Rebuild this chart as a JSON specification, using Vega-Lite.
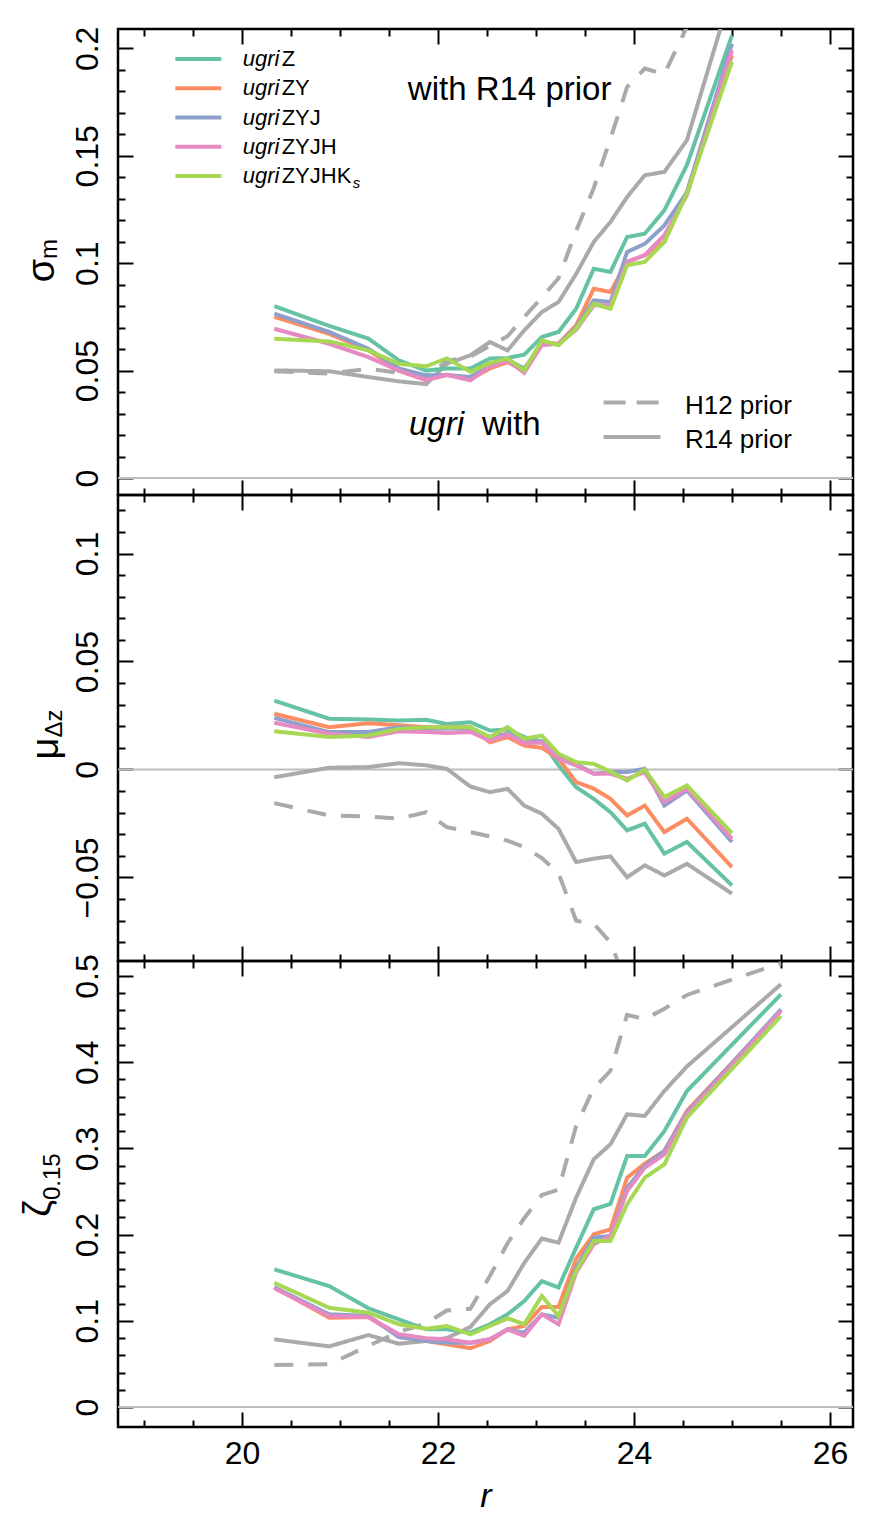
{
  "$schema": "https://vega.github.io/schema/vega-lite/v6.json",
  "background": "white",
  "padding": {"left": 18, "top": 24, "right": 5, "bottom": 5},
  "bounds": "flush",
  "spacing": 0,
  "config": {
    "view": {"stroke": "black", "strokeWidth": 2.5},
    "axis": {"labelFont": "Liberation Sans", "labelFontSize": 32, "labelColor": "black", "tickColor": "black", "tickWidth": 2, "domain": false, "grid": false, "labelFlush": false, "labelOverlap": false, "titleFont": "Liberation Sans", "titleColor": "black"},
    "text": {"font": "Liberation Sans", "color": "black"}
  },
  "datasets": {
    "sig": [
      {"r": 20.33, "ugriZ": 0.080, "ugriZY": 0.075, "ugriZYJ": 0.0765, "ugriZYJH": 0.0695, "ugriZYJHKs": 0.0648, "H12": 0.0497, "R14": 0.0501},
      {"r": 20.89, "ugriZ": 0.0708, "ugriZY": 0.0671, "ugriZYJ": 0.068, "ugriZYJH": 0.0625, "ugriZYJHKs": 0.0636, "H12": 0.0486, "R14": 0.0497},
      {"r": 21.29, "ugriZ": 0.0649, "ugriZY": 0.0595, "ugriZYJ": 0.0602, "ugriZYJH": 0.0563, "ugriZYJHKs": 0.0594, "H12": 0.0508, "R14": 0.047},
      {"r": 21.6, "ugriZ": 0.0548, "ugriZY": 0.050, "ugriZYJ": 0.051, "ugriZYJH": 0.050, "ugriZYJHKs": 0.0532, "H12": 0.049, "R14": 0.045},
      {"r": 21.88, "ugriZ": 0.050, "ugriZY": 0.0455, "ugriZYJ": 0.0478, "ugriZYJH": 0.0457, "ugriZYJHKs": 0.052, "H12": 0.047, "R14": 0.0437},
      {"r": 22.09, "ugriZ": 0.051, "ugriZY": 0.048, "ugriZYJ": 0.048, "ugriZYJH": 0.048, "ugriZYJHKs": 0.0557, "H12": 0.0545, "R14": 0.0532},
      {"r": 22.33, "ugriZ": 0.051, "ugriZY": 0.046, "ugriZYJ": 0.047, "ugriZYJH": 0.0455, "ugriZYJHKs": 0.0495, "H12": 0.0565, "R14": 0.0571},
      {"r": 22.53, "ugriZ": 0.0556, "ugriZY": 0.051, "ugriZYJ": 0.0523, "ugriZYJH": 0.0519, "ugriZYJHKs": 0.0535, "H12": 0.0615, "R14": 0.0633},
      {"r": 22.71, "ugriZ": 0.0559, "ugriZY": 0.054, "ugriZYJ": 0.055, "ugriZYJH": 0.0547, "ugriZYJHKs": 0.0557, "H12": 0.066, "R14": 0.0594},
      {"r": 22.88, "ugriZ": 0.0574, "ugriZY": 0.050, "ugriZYJ": 0.051, "ugriZYJH": 0.049, "ugriZYJHKs": 0.050, "H12": 0.075, "R14": 0.0687},
      {"r": 23.06, "ugriZ": 0.0656, "ugriZY": 0.0633, "ugriZYJ": 0.062, "ugriZYJH": 0.062, "ugriZYJHKs": 0.0641, "H12": 0.084, "R14": 0.0773},
      {"r": 23.23, "ugriZ": 0.068, "ugriZY": 0.0625, "ugriZYJ": 0.0625, "ugriZYJH": 0.0625, "ugriZYJHKs": 0.0618, "H12": 0.093, "R14": 0.0819},
      {"r": 23.41, "ugriZ": 0.0788, "ugriZY": 0.071, "ugriZYJ": 0.070, "ugriZYJH": 0.069, "ugriZYJHKs": 0.0695, "H12": 0.115, "R14": 0.095},
      {"r": 23.59, "ugriZ": 0.0974, "ugriZY": 0.0881, "ugriZYJ": 0.0827, "ugriZYJH": 0.0804, "ugriZYJHKs": 0.0811, "H12": 0.135, "R14": 0.1099},
      {"r": 23.76, "ugriZ": 0.0959, "ugriZY": 0.0866, "ugriZYJ": 0.0819, "ugriZYJH": 0.0804, "ugriZYJHKs": 0.0788, "H12": 0.158, "R14": 0.1192},
      {"r": 23.93, "ugriZ": 0.1122, "ugriZY": 0.1006, "ugriZYJ": 0.1052, "ugriZYJH": 0.1006, "ugriZYJHKs": 0.099, "H12": 0.182, "R14": 0.1308},
      {"r": 24.11, "ugriZ": 0.1137, "ugriZY": 0.1037, "ugriZYJ": 0.109, "ugriZYJH": 0.1037, "ugriZYJHKs": 0.1006, "H12": 0.1906, "R14": 0.1409},
      {"r": 24.31, "ugriZ": 0.1246, "ugriZY": 0.1099, "ugriZYJ": 0.1176, "ugriZYJH": 0.113, "ugriZYJHKs": 0.1099, "H12": 0.188, "R14": 0.1425},
      {"r": 24.54, "ugriZ": 0.1456, "ugriZY": 0.1331, "ugriZYJ": 0.133, "ugriZYJH": 0.1316, "ugriZYJHKs": 0.1324, "H12": 0.21, "R14": 0.1572},
      {"r": 25.0, "ugriZ": 0.206, "ugriZY": 0.1968, "ugriZYJ": 0.2022, "ugriZYJH": 0.1991, "ugriZYJHKs": 0.1937, "H12": 0.30, "R14": 0.227}
    ],
    "mu": [
      {"r": 20.33, "ugriZ": 0.0319, "ugriZY": 0.0258, "ugriZYJ": 0.0239, "ugriZYJH": 0.0216, "ugriZYJHKs": 0.0177, "H12": -0.0156, "R14": -0.0036},
      {"r": 20.89, "ugriZ": 0.0235, "ugriZY": 0.0196, "ugriZYJ": 0.0173, "ugriZYJH": 0.0165, "ugriZYJHKs": 0.015, "H12": -0.0213, "R14": 0.0008},
      {"r": 21.29, "ugriZ": 0.0231, "ugriZY": 0.0214, "ugriZYJ": 0.0174, "ugriZYJH": 0.015, "ugriZYJHKs": 0.0157, "H12": -0.0218, "R14": 0.0011},
      {"r": 21.6, "ugriZ": 0.0227, "ugriZY": 0.0205, "ugriZYJ": 0.0196, "ugriZYJH": 0.0177, "ugriZYJHKs": 0.0188, "H12": -0.0228, "R14": 0.0029},
      {"r": 21.88, "ugriZ": 0.023, "ugriZY": 0.0196, "ugriZYJ": 0.0188, "ugriZYJH": 0.0174, "ugriZYJHKs": 0.0196, "H12": -0.0198, "R14": 0.0019},
      {"r": 22.09, "ugriZ": 0.0211, "ugriZY": 0.0196, "ugriZYJ": 0.019, "ugriZYJH": 0.0169, "ugriZYJHKs": 0.0196, "H12": -0.0267, "R14": 0.0003},
      {"r": 22.33, "ugriZ": 0.0219, "ugriZY": 0.0196, "ugriZYJ": 0.019, "ugriZYJH": 0.0174, "ugriZYJHKs": 0.0196, "H12": -0.029, "R14": -0.0079},
      {"r": 22.53, "ugriZ": 0.018, "ugriZY": 0.0126, "ugriZYJ": 0.015, "ugriZYJH": 0.0134, "ugriZYJHKs": 0.015, "H12": -0.031, "R14": -0.0105},
      {"r": 22.71, "ugriZ": 0.0185, "ugriZY": 0.015, "ugriZYJ": 0.0165, "ugriZYJH": 0.0162, "ugriZYJHKs": 0.0196, "H12": -0.033, "R14": -0.009},
      {"r": 22.88, "ugriZ": 0.015, "ugriZY": 0.0111, "ugriZYJ": 0.013, "ugriZYJH": 0.0122, "ugriZYJHKs": 0.0142, "H12": -0.036, "R14": -0.0167},
      {"r": 23.06, "ugriZ": 0.013, "ugriZY": 0.010, "ugriZYJ": 0.013, "ugriZYJH": 0.0125, "ugriZYJHKs": 0.0157, "H12": -0.041, "R14": -0.0205},
      {"r": 23.23, "ugriZ": 0.0019, "ugriZY": 0.005, "ugriZYJ": 0.0057, "ugriZYJH": 0.005, "ugriZYJHKs": 0.0073, "H12": -0.048, "R14": -0.0275},
      {"r": 23.41, "ugriZ": -0.0082, "ugriZY": -0.0059, "ugriZYJ": 0.0026, "ugriZYJH": 0.0019, "ugriZYJHKs": 0.0034, "H12": -0.070, "R14": -0.0429},
      {"r": 23.59, "ugriZ": -0.0136, "ugriZY": -0.0089, "ugriZYJ": -0.002, "ugriZYJH": -0.002, "ugriZYJHKs": 0.0026, "H12": -0.0715, "R14": -0.0413},
      {"r": 23.76, "ugriZ": -0.0198, "ugriZY": -0.0136, "ugriZYJ": -0.0012, "ugriZYJH": -0.002, "ugriZYJHKs": -0.001, "H12": -0.080, "R14": -0.0403},
      {"r": 23.93, "ugriZ": -0.0282, "ugriZY": -0.0213, "ugriZYJ": -0.0012, "ugriZYJH": -0.0043, "ugriZYJHKs": -0.0051, "H12": -0.100, "R14": -0.0499},
      {"r": 24.11, "ugriZ": -0.0251, "ugriZY": -0.0167, "ugriZYJ": 0.0003, "ugriZYJH": -0.0012, "ugriZYJHKs": 0.0, "H12": -0.11, "R14": -0.0444},
      {"r": 24.31, "ugriZ": -0.039, "ugriZY": -0.029, "ugriZYJ": -0.0167, "ugriZYJH": -0.0151, "ugriZYJHKs": -0.0128, "H12": -0.12, "R14": -0.0491},
      {"r": 24.54, "ugriZ": -0.0336, "ugriZY": -0.0228, "ugriZYJ": -0.0097, "ugriZYJH": -0.0089, "ugriZYJHKs": -0.0074, "H12": -0.13, "R14": -0.0437},
      {"r": 25.0, "ugriZ": -0.0537, "ugriZY": -0.0452, "ugriZYJ": -0.0336, "ugriZYJH": -0.0321, "ugriZYJHKs": -0.0295, "H12": -0.15, "R14": -0.0575}
    ],
    "zeta": [
      {"r": 20.33, "ugriZ": 0.1597, "ugriZY": 0.139, "ugriZYJ": 0.139, "ugriZYJH": 0.1377, "ugriZYJHKs": 0.1442, "H12": 0.0487, "R14": 0.0785},
      {"r": 20.89, "ugriZ": 0.1404, "ugriZY": 0.1036, "ugriZYJ": 0.1075, "ugriZYJH": 0.1056, "ugriZYJHKs": 0.1152, "H12": 0.0495, "R14": 0.0703},
      {"r": 21.29, "ugriZ": 0.1145, "ugriZY": 0.1044, "ugriZYJ": 0.1056, "ugriZYJH": 0.1044, "ugriZYJHKs": 0.1094, "H12": 0.071, "R14": 0.0835},
      {"r": 21.6, "ugriZ": 0.1017, "ugriZY": 0.0824, "ugriZYJ": 0.0812, "ugriZYJH": 0.0843, "ugriZYJHKs": 0.096, "H12": 0.087, "R14": 0.0734},
      {"r": 21.88, "ugriZ": 0.0901, "ugriZY": 0.0766, "ugriZYJ": 0.0766, "ugriZYJH": 0.0797, "ugriZYJHKs": 0.0908, "H12": 0.097, "R14": 0.0766},
      {"r": 22.09, "ugriZ": 0.0901, "ugriZY": 0.0727, "ugriZYJ": 0.0746, "ugriZYJH": 0.0785, "ugriZYJHKs": 0.094, "H12": 0.112, "R14": 0.080},
      {"r": 22.33, "ugriZ": 0.0862, "ugriZY": 0.0681, "ugriZYJ": 0.0746, "ugriZYJH": 0.0746, "ugriZYJHKs": 0.0843, "H12": 0.114, "R14": 0.0928},
      {"r": 22.53, "ugriZ": 0.096, "ugriZY": 0.0766, "ugriZYJ": 0.0785, "ugriZYJH": 0.0785, "ugriZYJHKs": 0.094, "H12": 0.152, "R14": 0.1191},
      {"r": 22.71, "ugriZ": 0.1075, "ugriZY": 0.0901, "ugriZYJ": 0.0901, "ugriZYJH": 0.0901, "ugriZYJHKs": 0.1029, "H12": 0.19, "R14": 0.1346},
      {"r": 22.88, "ugriZ": 0.123, "ugriZY": 0.094, "ugriZYJ": 0.0862, "ugriZYJH": 0.0824, "ugriZYJHKs": 0.096, "H12": 0.219, "R14": 0.167},
      {"r": 23.06, "ugriZ": 0.146, "ugriZY": 0.116, "ugriZYJ": 0.1075, "ugriZYJH": 0.1075, "ugriZYJHKs": 0.1288, "H12": 0.246, "R14": 0.1955},
      {"r": 23.23, "ugriZ": 0.1388, "ugriZY": 0.116, "ugriZYJ": 0.1036, "ugriZYJH": 0.096, "ugriZYJHKs": 0.1056, "H12": 0.252, "R14": 0.1906},
      {"r": 23.41, "ugriZ": 0.1849, "ugriZY": 0.1721, "ugriZYJ": 0.1616, "ugriZYJH": 0.1558, "ugriZYJHKs": 0.1578, "H12": 0.326, "R14": 0.243},
      {"r": 23.59, "ugriZ": 0.2294, "ugriZY": 0.2003, "ugriZYJ": 0.1964, "ugriZYJH": 0.1888, "ugriZYJHKs": 0.1926, "H12": 0.37, "R14": 0.2874},
      {"r": 23.76, "ugriZ": 0.2355, "ugriZY": 0.2061, "ugriZYJ": 0.1983, "ugriZYJH": 0.1983, "ugriZYJHKs": 0.1926, "H12": 0.39, "R14": 0.3048},
      {"r": 23.93, "ugriZ": 0.2912, "ugriZY": 0.266, "ugriZYJ": 0.2544, "ugriZYJH": 0.2506, "ugriZYJHKs": 0.2352, "H12": 0.455, "R14": 0.3396},
      {"r": 24.11, "ugriZ": 0.2912, "ugriZY": 0.2823, "ugriZYJ": 0.2796, "ugriZYJH": 0.2777, "ugriZYJHKs": 0.266, "H12": 0.45, "R14": 0.3376},
      {"r": 24.31, "ugriZ": 0.32, "ugriZY": 0.297, "ugriZYJ": 0.297, "ugriZYJH": 0.2931, "ugriZYJHKs": 0.2815, "H12": 0.462, "R14": 0.3666},
      {"r": 24.54, "ugriZ": 0.3666, "ugriZY": 0.3434, "ugriZYJ": 0.3415, "ugriZYJH": 0.3395, "ugriZYJHKs": 0.3357, "H12": 0.478, "R14": 0.395},
      {"r": 25.5, "ugriZ": 0.4787, "ugriZY": 0.4594, "ugriZYJ": 0.4613, "ugriZYJH": 0.4594, "ugriZYJHKs": 0.4536, "H12": 0.515, "R14": 0.4904}
    ],
    "legend": [
      {"name": "ugriZ", "rest": "Z"},
      {"name": "ugriZY", "rest": "ZY"},
      {"name": "ugriZYJ", "rest": "ZYJ"},
      {"name": "ugriZYJH", "rest": "ZYJH"},
      {"name": "ugriZYJHKs", "rest": "ZYJHK"}
    ]
  },
  "vconcat": [
    {
      "width": 735,
      "height": 466,
      "data": {"name": "sig"},
      "layer": [
        {
          "data": {"values": [{}]},
          "mark": {"type": "rule", "color": "#bebebe", "strokeWidth": 2},
          "encoding": {"y": {"datum": 0, "type": "quantitative", "scale": {"domain": [-0.0079, 0.209], "nice": false, "zero": false}, "axis": null}}
        },
        {
          "transform": [{"fold": ["H12", "R14"], "as": ["series", "v"]}],
          "mark": {"type": "line", "strokeWidth": 4, "color": "#aaaaaa", "clip": true},
          "encoding": {
            "x": {"field": "r", "type": "quantitative", "scale": {"domain": [18.735, 26.235], "nice": false, "zero": false}, "axis": null},
            "y": {"field": "v", "type": "quantitative", "scale": {"domain": [-0.0079, 0.209], "nice": false, "zero": false}, "axis": null},
            "strokeDash": {"field": "series", "type": "nominal", "scale": {"domain": ["H12", "R14"], "range": [[19, 15], [1, 0]]}, "legend": null}
          }
        },
        {
          "transform": [{"fold": ["ugriZ", "ugriZY", "ugriZYJ", "ugriZYJH", "ugriZYJHKs"], "as": ["series", "v"]}],
          "mark": {"type": "line", "strokeWidth": 4, "clip": true},
          "encoding": {
            "x": {"field": "r", "type": "quantitative", "scale": {"domain": [18.735, 26.235], "nice": false, "zero": false}, "axis": null},
            "y": {"field": "v", "type": "quantitative", "scale": {"domain": [-0.0079, 0.209], "nice": false, "zero": false}, "axis": null},
            "color": {"field": "series", "type": "nominal", "scale": {"domain": ["ugriZ", "ugriZY", "ugriZYJ", "ugriZYJH", "ugriZYJHKs"], "range": ["#66c2a5", "#fc8d62", "#8da0cb", "#e78ac3", "#a6d854"]}, "legend": null}
          }
        },
        {
          "mark": {"type": "point", "opacity": 0},
          "encoding": {
            "x": {"field": "r", "type": "quantitative", "scale": {"domain": [18.735, 26.235], "nice": false, "zero": false},
              "axis": {"orient": "bottom", "values": [19, 19.5, 20, 20.5, 21, 21.5, 22, 22.5, 23, 23.5, 24, 24.5, 25, 25.5, 26], "labels": false, "title": null,
                "tickSize": {"condition": {"test": "datum.value % 2 === 0", "value": -15}, "value": -7}}},
            "y": {"field": "ugriZYJHKs", "type": "quantitative", "scale": {"domain": [-0.0079, 0.209], "nice": false, "zero": false},
              "axis": {"orient": "left", "values": [0, 0.01, 0.02, 0.03, 0.04, 0.05, 0.06, 0.07, 0.08, 0.09, 0.1, 0.11, 0.12, 0.13, 0.14, 0.15, 0.16, 0.17, 0.18, 0.19, 0.2], "labels": false, "title": null,
                "tickSize": {"condition": {"test": "abs(datum.value*20-round(datum.value*20))<0.000001", "value": -15}, "value": -7}}}
          }
        },
        {
          "mark": {"type": "point", "opacity": 0},
          "encoding": {
            "x": {"field": "r", "type": "quantitative", "scale": {"domain": [18.735, 26.235], "nice": false, "zero": false},
              "axis": {"orient": "top", "values": [19, 19.5, 20, 20.5, 21, 21.5, 22, 22.5, 23, 23.5, 24, 24.5, 25, 25.5, 26], "labels": false, "title": null,
                "tickSize": {"condition": {"test": "datum.value % 2 === 0", "value": -15}, "value": -7}}},
            "y": {"field": "ugriZYJHKs", "type": "quantitative", "scale": {"domain": [-0.0079, 0.209], "nice": false, "zero": false},
              "axis": {"orient": "right", "values": [0, 0.01, 0.02, 0.03, 0.04, 0.05, 0.06, 0.07, 0.08, 0.09, 0.1, 0.11, 0.12, 0.13, 0.14, 0.15, 0.16, 0.17, 0.18, 0.19, 0.2], "labels": false, "title": null,
                "tickSize": {"condition": {"test": "abs(datum.value*20-round(datum.value*20))<0.000001", "value": -15}, "value": -7}}}
          }
        },
        {
          "mark": {"type": "point", "opacity": 0},
          "encoding": {
            "x": {"field": "r", "type": "quantitative", "scale": {"domain": [18.735, 26.235], "nice": false, "zero": false}, "axis": null},
            "y": {"field": "ugriZYJHKs", "type": "quantitative", "scale": {"domain": [-0.0079, 0.209], "nice": false, "zero": false},
              "axis": {"orient": "left", "values": [0, 0.05, 0.1, 0.15, 0.2], "format": "~g", "ticks": false, "tickSize": 0, "title": null, "labelAngle": -90, "labelAlign": "center", "labelBaseline": "alphabetic", "labelPadding": 21}}
          }
        },
        {
          "data": {"values": [{}]},
          "mark": {"type": "text", "text": "σ", "fontSize": 38, "angle": 270, "align": "right", "baseline": "alphabetic"},
          "encoding": {
            "x": {"datum": 18.082, "type": "quantitative", "scale": {"domain": [18.735, 26.235], "nice": false, "zero": false}, "axis": null},
            "y": {"datum": 0.102, "type": "quantitative", "scale": {"domain": [-0.0079, 0.209], "nice": false, "zero": false}, "axis": null}
          }
        },
        {
          "data": {"values": [{}]},
          "mark": {"type": "text", "text": "m", "fontSize": 24, "angle": 270, "align": "left", "baseline": "alphabetic", "dy": 3},
          "encoding": {
            "x": {"datum": 18.082, "type": "quantitative", "scale": {"domain": [18.735, 26.235], "nice": false, "zero": false}, "axis": null},
            "y": {"datum": 0.102, "type": "quantitative", "scale": {"domain": [-0.0079, 0.209], "nice": false, "zero": false}, "axis": null}
          }
        },
        {
          "data": {"values": [{}]},
          "mark": {"type": "text", "text": "with R14 prior", "fontSize": 33, "align": "center", "baseline": "alphabetic"},
          "encoding": {
            "x": {"datum": 22.731, "type": "quantitative", "scale": {"domain": [18.735, 26.235], "nice": false, "zero": false}, "axis": null},
            "y": {"datum": 0.1758, "type": "quantitative", "scale": {"domain": [-0.0079, 0.209], "nice": false, "zero": false}, "axis": null}
          }
        },
        {
          "data": {"values": [{}]},
          "mark": {"type": "text", "text": "ugri", "fontSize": 33, "fontStyle": "italic", "align": "left", "baseline": "alphabetic"},
          "encoding": {
            "x": {"datum": 21.704, "type": "quantitative", "scale": {"domain": [18.735, 26.235], "nice": false, "zero": false}, "axis": null},
            "y": {"datum": 0.020, "type": "quantitative", "scale": {"domain": [-0.0079, 0.209], "nice": false, "zero": false}, "axis": null}
          }
        },
        {
          "data": {"values": [{}]},
          "mark": {"type": "text", "text": "with", "fontSize": 33, "align": "left", "baseline": "alphabetic"},
          "encoding": {
            "x": {"datum": 22.449, "type": "quantitative", "scale": {"domain": [18.735, 26.235], "nice": false, "zero": false}, "axis": null},
            "y": {"datum": 0.020, "type": "quantitative", "scale": {"domain": [-0.0079, 0.209], "nice": false, "zero": false}, "axis": null}
          }
        },
        {
          "data": {"values": [{}]},
          "mark": {"type": "rule", "color": "#aaaaaa", "strokeWidth": 4, "strokeDash": [22, 11]},
          "encoding": {
            "x": {"datum": 23.69, "type": "quantitative", "scale": {"domain": [18.735, 26.235], "nice": false, "zero": false}, "axis": null},
            "x2": {"datum": 24.27},
            "y": {"datum": 0.0351, "type": "quantitative", "scale": {"domain": [-0.0079, 0.209], "nice": false, "zero": false}, "axis": null}
          }
        },
        {
          "data": {"values": [{}]},
          "mark": {"type": "rule", "color": "#aaaaaa", "strokeWidth": 4},
          "encoding": {
            "x": {"datum": 23.69, "type": "quantitative", "scale": {"domain": [18.735, 26.235], "nice": false, "zero": false}, "axis": null},
            "x2": {"datum": 24.27},
            "y": {"datum": 0.0191, "type": "quantitative", "scale": {"domain": [-0.0079, 0.209], "nice": false, "zero": false}, "axis": null}
          }
        },
        {
          "data": {"values": [{}]},
          "mark": {"type": "text", "text": "H12 prior", "fontSize": 26, "align": "left", "baseline": "alphabetic"},
          "encoding": {
            "x": {"datum": 24.52, "type": "quantitative", "scale": {"domain": [18.735, 26.235], "nice": false, "zero": false}, "axis": null},
            "y": {"datum": 0.0298, "type": "quantitative", "scale": {"domain": [-0.0079, 0.209], "nice": false, "zero": false}, "axis": null}
          }
        },
        {
          "data": {"values": [{}]},
          "mark": {"type": "text", "text": "R14 prior", "fontSize": 26, "align": "left", "baseline": "alphabetic"},
          "encoding": {
            "x": {"datum": 24.52, "type": "quantitative", "scale": {"domain": [18.735, 26.235], "nice": false, "zero": false}, "axis": null},
            "y": {"datum": 0.014, "type": "quantitative", "scale": {"domain": [-0.0079, 0.209], "nice": false, "zero": false}, "axis": null}
          }
        },
        {
          "data": {"name": "legend"},
          "mark": {"type": "rule", "strokeWidth": 4},
          "encoding": {
            "x": {"datum": 19.32, "type": "quantitative", "scale": {"domain": [18.735, 26.235], "nice": false, "zero": false}, "axis": null},
            "x2": {"datum": 19.79},
            "y": {"field": "name", "type": "nominal", "scale": {"type": "point", "domain": ["ugriZ", "ugriZY", "ugriZYJ", "ugriZYJH", "ugriZYJHKs"], "range": [30, 147], "padding": 0}, "axis": null},
            "color": {"field": "name", "type": "nominal", "scale": {"domain": ["ugriZ", "ugriZY", "ugriZYJ", "ugriZYJH", "ugriZYJHKs"], "range": ["#66c2a5", "#fc8d62", "#8da0cb", "#e78ac3", "#a6d854"]}, "legend": null}
          }
        },
        {
          "data": {"name": "legend"},
          "mark": {"type": "text", "text": "ugri", "fontSize": 22, "fontStyle": "italic", "align": "left", "baseline": "middle"},
          "encoding": {
            "x": {"datum": 20.007, "type": "quantitative", "scale": {"domain": [18.735, 26.235], "nice": false, "zero": false}, "axis": null},
            "y": {"field": "name", "type": "nominal", "scale": {"type": "point", "domain": ["ugriZ", "ugriZY", "ugriZYJ", "ugriZYJH", "ugriZYJHKs"], "range": [30, 147], "padding": 0}, "axis": null}
          }
        },
        {
          "data": {"name": "legend"},
          "mark": {"type": "text", "fontSize": 22, "align": "left", "baseline": "middle", "dx": 39},
          "encoding": {
            "x": {"datum": 20.007, "type": "quantitative", "scale": {"domain": [18.735, 26.235], "nice": false, "zero": false}, "axis": null},
            "y": {"field": "name", "type": "nominal", "scale": {"type": "point", "domain": ["ugriZ", "ugriZY", "ugriZYJ", "ugriZYJH", "ugriZYJHKs"], "range": [30, 147], "padding": 0}, "axis": null},
            "text": {"field": "rest"}
          }
        },
        {
          "data": {"name": "legend"},
          "transform": [{"filter": "datum.name === 'ugriZYJHKs'"}],
          "mark": {"type": "text", "text": "s", "fontSize": 15, "fontStyle": "italic", "align": "left", "baseline": "middle", "dx": 110, "dy": 7},
          "encoding": {
            "x": {"datum": 20.007, "type": "quantitative", "scale": {"domain": [18.735, 26.235], "nice": false, "zero": false}, "axis": null},
            "y": {"field": "name", "type": "nominal", "scale": {"type": "point", "domain": ["ugriZ", "ugriZY", "ugriZYJ", "ugriZYJH", "ugriZYJHKs"], "range": [30, 147], "padding": 0}, "axis": null}
          }
        }
      ],
      "resolve": {"scale": {"y": "independent"}, "axis": {"x": "independent", "y": "independent"}}
    },
    {
      "width": 735,
      "height": 466,
      "data": {"name": "mu"},
      "layer": [
        {
          "data": {"values": [{}]},
          "mark": {"type": "rule", "color": "#bebebe", "strokeWidth": 2},
          "encoding": {"y": {"datum": 0, "type": "quantitative", "scale": {"domain": [-0.0887, 0.1271], "nice": false, "zero": false}, "axis": null}}
        },
        {
          "transform": [{"fold": ["H12", "R14"], "as": ["series", "v"]}],
          "mark": {"type": "line", "strokeWidth": 4, "color": "#aaaaaa", "clip": true},
          "encoding": {
            "x": {"field": "r", "type": "quantitative", "scale": {"domain": [18.735, 26.235], "nice": false, "zero": false}, "axis": null},
            "y": {"field": "v", "type": "quantitative", "scale": {"domain": [-0.0887, 0.1271], "nice": false, "zero": false}, "axis": null},
            "strokeDash": {"field": "series", "type": "nominal", "scale": {"domain": ["H12", "R14"], "range": [[19, 15], [1, 0]]}, "legend": null}
          }
        },
        {
          "transform": [{"fold": ["ugriZ", "ugriZY", "ugriZYJ", "ugriZYJH", "ugriZYJHKs"], "as": ["series", "v"]}],
          "mark": {"type": "line", "strokeWidth": 4, "clip": true},
          "encoding": {
            "x": {"field": "r", "type": "quantitative", "scale": {"domain": [18.735, 26.235], "nice": false, "zero": false}, "axis": null},
            "y": {"field": "v", "type": "quantitative", "scale": {"domain": [-0.0887, 0.1271], "nice": false, "zero": false}, "axis": null},
            "color": {"field": "series", "type": "nominal", "scale": {"domain": ["ugriZ", "ugriZY", "ugriZYJ", "ugriZYJH", "ugriZYJHKs"], "range": ["#66c2a5", "#fc8d62", "#8da0cb", "#e78ac3", "#a6d854"]}, "legend": null}
          }
        },
        {
          "mark": {"type": "point", "opacity": 0},
          "encoding": {
            "x": {"field": "r", "type": "quantitative", "scale": {"domain": [18.735, 26.235], "nice": false, "zero": false},
              "axis": {"orient": "bottom", "values": [19, 19.5, 20, 20.5, 21, 21.5, 22, 22.5, 23, 23.5, 24, 24.5, 25, 25.5, 26], "labels": false, "title": null,
                "tickSize": {"condition": {"test": "datum.value % 2 === 0", "value": -15}, "value": -7}}},
            "y": {"field": "R14", "type": "quantitative", "scale": {"domain": [-0.0887, 0.1271], "nice": false, "zero": false},
              "axis": {"orient": "left", "values": [-0.08, -0.07, -0.06, -0.05, -0.04, -0.03, -0.02, -0.01, 0, 0.01, 0.02, 0.03, 0.04, 0.05, 0.06, 0.07, 0.08, 0.09, 0.1, 0.11, 0.12], "labels": false, "title": null,
                "tickSize": {"condition": {"test": "abs(datum.value*20-round(datum.value*20))<0.000001", "value": -15}, "value": -7}}}
          }
        },
        {
          "mark": {"type": "point", "opacity": 0},
          "encoding": {
            "x": {"field": "r", "type": "quantitative", "scale": {"domain": [18.735, 26.235], "nice": false, "zero": false},
              "axis": {"orient": "top", "values": [19, 19.5, 20, 20.5, 21, 21.5, 22, 22.5, 23, 23.5, 24, 24.5, 25, 25.5, 26], "labels": false, "title": null,
                "tickSize": {"condition": {"test": "datum.value % 2 === 0", "value": -15}, "value": -7}}},
            "y": {"field": "R14", "type": "quantitative", "scale": {"domain": [-0.0887, 0.1271], "nice": false, "zero": false},
              "axis": {"orient": "right", "values": [-0.08, -0.07, -0.06, -0.05, -0.04, -0.03, -0.02, -0.01, 0, 0.01, 0.02, 0.03, 0.04, 0.05, 0.06, 0.07, 0.08, 0.09, 0.1, 0.11, 0.12], "labels": false, "title": null,
                "tickSize": {"condition": {"test": "abs(datum.value*20-round(datum.value*20))<0.000001", "value": -15}, "value": -7}}}
          }
        },
        {
          "mark": {"type": "point", "opacity": 0},
          "encoding": {
            "x": {"field": "r", "type": "quantitative", "scale": {"domain": [18.735, 26.235], "nice": false, "zero": false}, "axis": null},
            "y": {"field": "R14", "type": "quantitative", "scale": {"domain": [-0.0887, 0.1271], "nice": false, "zero": false},
              "axis": {"orient": "left", "values": [-0.05, 0, 0.05, 0.1], "format": "~g", "ticks": false, "tickSize": 0, "title": null, "labelAngle": -90, "labelAlign": "center", "labelBaseline": "alphabetic", "labelPadding": 21}}
          }
        },
        {
          "data": {"values": [{}]},
          "mark": {"type": "text", "text": "μ", "fontSize": 38, "angle": 270, "align": "right", "baseline": "alphabetic"},
          "encoding": {
            "x": {"datum": 18.122, "type": "quantitative", "scale": {"domain": [18.735, 26.235], "nice": false, "zero": false}, "axis": null},
            "y": {"datum": 0.0148, "type": "quantitative", "scale": {"domain": [-0.0887, 0.1271], "nice": false, "zero": false}, "axis": null}
          }
        },
        {
          "data": {"values": [{}]},
          "mark": {"type": "text", "text": "Δz", "fontSize": 24, "angle": 270, "align": "left", "baseline": "alphabetic", "dy": 4},
          "encoding": {
            "x": {"datum": 18.122, "type": "quantitative", "scale": {"domain": [18.735, 26.235], "nice": false, "zero": false}, "axis": null},
            "y": {"datum": 0.0148, "type": "quantitative", "scale": {"domain": [-0.0887, 0.1271], "nice": false, "zero": false}, "axis": null}
          }
        }
      ],
      "resolve": {"axis": {"x": "independent", "y": "independent"}}
    },
    {
      "width": 735,
      "height": 466,
      "data": {"name": "zeta"},
      "layer": [
        {
          "data": {"values": [{}]},
          "mark": {"type": "rule", "color": "#bebebe", "strokeWidth": 2},
          "encoding": {"y": {"datum": 0, "type": "quantitative", "scale": {"domain": [-0.0232, 0.5174], "nice": false, "zero": false}, "axis": null}}
        },
        {
          "transform": [{"fold": ["H12", "R14"], "as": ["series", "v"]}],
          "mark": {"type": "line", "strokeWidth": 4, "color": "#aaaaaa", "clip": true},
          "encoding": {
            "x": {"field": "r", "type": "quantitative", "scale": {"domain": [18.735, 26.235], "nice": false, "zero": false}, "axis": null},
            "y": {"field": "v", "type": "quantitative", "scale": {"domain": [-0.0232, 0.5174], "nice": false, "zero": false}, "axis": null},
            "strokeDash": {"field": "series", "type": "nominal", "scale": {"domain": ["H12", "R14"], "range": [[19, 15], [1, 0]]}, "legend": null}
          }
        },
        {
          "transform": [{"fold": ["ugriZ", "ugriZY", "ugriZYJ", "ugriZYJH", "ugriZYJHKs"], "as": ["series", "v"]}],
          "mark": {"type": "line", "strokeWidth": 4, "clip": true},
          "encoding": {
            "x": {"field": "r", "type": "quantitative", "scale": {"domain": [18.735, 26.235], "nice": false, "zero": false}, "axis": null},
            "y": {"field": "v", "type": "quantitative", "scale": {"domain": [-0.0232, 0.5174], "nice": false, "zero": false}, "axis": null},
            "color": {"field": "series", "type": "nominal", "scale": {"domain": ["ugriZ", "ugriZY", "ugriZYJ", "ugriZYJH", "ugriZYJHKs"], "range": ["#66c2a5", "#fc8d62", "#8da0cb", "#e78ac3", "#a6d854"]}, "legend": null}
          }
        },
        {
          "mark": {"type": "point", "opacity": 0},
          "encoding": {
            "x": {"field": "r", "type": "quantitative", "scale": {"domain": [18.735, 26.235], "nice": false, "zero": false},
              "axis": {"orient": "bottom", "values": [19, 19.5, 20, 20.5, 21, 21.5, 22, 22.5, 23, 23.5, 24, 24.5, 25, 25.5, 26], "labels": false, "title": null,
                "tickSize": {"condition": {"test": "datum.value % 2 === 0", "value": -15}, "value": -7}}},
            "y": {"field": "R14", "type": "quantitative", "scale": {"domain": [-0.0232, 0.5174], "nice": false, "zero": false},
              "axis": {"orient": "left", "values": [0, 0.02, 0.04, 0.06, 0.08, 0.1, 0.12, 0.14, 0.16, 0.18, 0.2, 0.22, 0.24, 0.26, 0.28, 0.3, 0.32, 0.34, 0.36, 0.38, 0.4, 0.42, 0.44, 0.46, 0.48, 0.5], "labels": false, "title": null,
                "tickSize": {"condition": {"test": "abs(datum.value*10-round(datum.value*10))<0.000001", "value": -15}, "value": -7}}}
          }
        },
        {
          "mark": {"type": "point", "opacity": 0},
          "encoding": {
            "x": {"field": "r", "type": "quantitative", "scale": {"domain": [18.735, 26.235], "nice": false, "zero": false},
              "axis": {"orient": "top", "values": [19, 19.5, 20, 20.5, 21, 21.5, 22, 22.5, 23, 23.5, 24, 24.5, 25, 25.5, 26], "labels": false, "title": null,
                "tickSize": {"condition": {"test": "datum.value % 2 === 0", "value": -15}, "value": -7}}},
            "y": {"field": "R14", "type": "quantitative", "scale": {"domain": [-0.0232, 0.5174], "nice": false, "zero": false},
              "axis": {"orient": "right", "values": [0, 0.02, 0.04, 0.06, 0.08, 0.1, 0.12, 0.14, 0.16, 0.18, 0.2, 0.22, 0.24, 0.26, 0.28, 0.3, 0.32, 0.34, 0.36, 0.38, 0.4, 0.42, 0.44, 0.46, 0.48, 0.5], "labels": false, "title": null,
                "tickSize": {"condition": {"test": "abs(datum.value*10-round(datum.value*10))<0.000001", "value": -15}, "value": -7}}}
          }
        },
        {
          "mark": {"type": "point", "opacity": 0},
          "encoding": {
            "x": {"field": "r", "type": "quantitative", "scale": {"domain": [18.735, 26.235], "nice": false, "zero": false},
              "axis": {"orient": "bottom", "values": [20, 22, 24, 26], "format": "~g", "ticks": false, "tickSize": 0, "labelPadding": 11, "labelBaseline": "top", "title": "r", "titleFontStyle": "italic", "titleFontWeight": "normal", "titleFontSize": 34, "titlePadding": 10}},
            "y": {"field": "R14", "type": "quantitative", "scale": {"domain": [-0.0232, 0.5174], "nice": false, "zero": false},
              "axis": {"orient": "left", "values": [0, 0.1, 0.2, 0.3, 0.4, 0.5], "format": "~g", "ticks": false, "tickSize": 0, "title": null, "labelAngle": -90, "labelAlign": "center", "labelBaseline": "alphabetic", "labelPadding": 21}}
          }
        },
        {
          "data": {"values": [{}]},
          "mark": {"type": "text", "text": "ζ", "fontSize": 38, "angle": 270, "align": "right", "baseline": "alphabetic"},
          "encoding": {
            "x": {"datum": 18.041, "type": "quantitative", "scale": {"domain": [18.735, 26.235], "nice": false, "zero": false}, "axis": null},
            "y": {"datum": 0.2401, "type": "quantitative", "scale": {"domain": [-0.0232, 0.5174], "nice": false, "zero": false}, "axis": null}
          }
        },
        {
          "data": {"values": [{}]},
          "mark": {"type": "text", "text": "0.15", "fontSize": 24, "angle": 270, "align": "left", "baseline": "alphabetic", "dy": 10},
          "encoding": {
            "x": {"datum": 18.041, "type": "quantitative", "scale": {"domain": [18.735, 26.235], "nice": false, "zero": false}, "axis": null},
            "y": {"datum": 0.2401, "type": "quantitative", "scale": {"domain": [-0.0232, 0.5174], "nice": false, "zero": false}, "axis": null}
          }
        }
      ],
      "resolve": {"axis": {"x": "independent", "y": "independent"}}
    }
  ]
}
